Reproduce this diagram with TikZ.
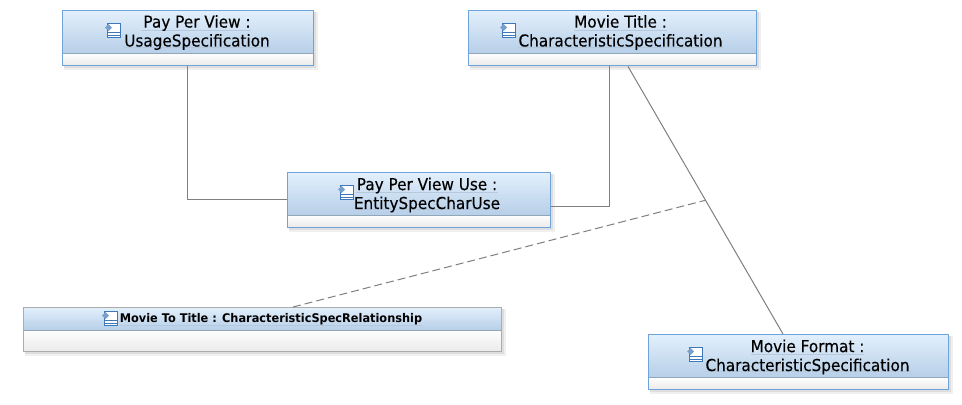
\documentclass[tikz,border=0pt]{standalone}
\usepackage{fontspec}
\setmainfont{DejaVu Sans}
\newfontfamily\labelfont[FakeStretch=0.93,FakeBold=0.25]{DejaVu Sans}
\newfontfamily\smallfont[FakeStretch=0.95]{DejaVu Sans}
\usetikzlibrary{calc}
\definecolor{hdrtop}{HTML}{E3F0FC}
\definecolor{hdrbot}{HTML}{B7CFE8}
\definecolor{edgeblue}{HTML}{6FA3DC}
\definecolor{edgegray}{HTML}{ABABAB}
\definecolor{linkgray}{HTML}{808080}
\definecolor{iconblue}{HTML}{3F78B8}
\definecolor{underl}{HTML}{B4C8DE}
\tikzset{
  x=0.75pt,y=-0.75pt,
  umlbox/.style={draw=edgeblue,line width=1.1pt,inner sep=0pt,rectangle},
  graybox/.style={umlbox,draw=edgegray},
  boxlabel/.style={align=center,font=\labelfont\fontsize{12.3}{14.2}\selectfont,text=black,inner sep=0pt},
  smalllabel/.style={font=\smallfont\bfseries\fontsize{8.95}{11}\selectfont,text=black,inner sep=0pt},
  link/.style={draw=linkgray,line width=0.75pt},
  dashlink/.style={link,dash pattern=on 6pt off 3pt},
  underlineline/.style={draw=underl,line width=0.6pt},
}
% #1 name, #2 x1, #3 y1, #4 x2, #5 y2, #6 divider y, #7 style
\newcommand{\umlframe}[7]{%
  \fill[black!6] (#2+2,#3+2) rectangle (#4+5,#5+5);
  \fill[black!13] (#2+2,#3+2) rectangle (#4+3,#5+3);
  \shade[top color=hdrtop,bottom color=hdrbot] (#2,#3) rectangle (#4,#6);
  \shade[top color=white,bottom color=black!8] (#2,#6) rectangle (#4,#5);
  \draw[draw=hdrbot!80!black,line width=0.75pt] (#2,#6+0.5) -- (#4,#6+0.5);
  \node[#7,anchor=north west,minimum width=#4*0.75pt-#2*0.75pt,minimum height=#5*0.75pt-#3*0.75pt] (#1) at (#2,#3) {};
}
\newcommand{\umlicon}[2]{%
  \begin{scope}[shift={(#1,#2)}]
    \draw[iconblue,fill=white,line width=0.7pt] (2,0) rectangle (15,14.5);
    \draw[iconblue,line width=0.7pt] (2,9) -- (15,9) (2,12) -- (15,12);
    \fill[iconblue!70] (0,4.5) -- (3.5,1) -- (7,4.5) -- (3.5,8) -- cycle;
  \end{scope}%
}
\begin{document}
\begin{tikzpicture}
\useasboundingbox (0,0) rectangle (962,404);
\fill[white] (0,0) rectangle (962,404);

\umlframe{ppv}{62}{10}{313}{65}{53}{umlbox}
\umlframe{title}{468}{10}{756}{65}{53}{umlbox}
\umlframe{use}{287}{172}{550}{227}{215}{umlbox}
\umlframe{rel}{23}{307}{501}{351}{330}{graybox}
\umlframe{format}{648}{334}{948}{389}{377}{umlbox}

\umlicon{105}{23}
\umlicon{500}{23}
\umlicon{338}{185}
\umlicon{102}{311}
\umlicon{687}{347}

\draw[underlineline] (141,30.5) -- (251,30.5) (124,47.5) -- (270,47.5);
\draw[underlineline] (574,30.5) -- (667,30.5) (518,47.5) -- (723,47.5);
\draw[underlineline] (356,192.5) -- (498,192.5) (356,209.5) -- (498,209.5);
\draw[underlineline] (120,325.5) -- (422,325.5);
\draw[underlineline] (751,354.5) -- (864,354.5) (705,371.5) -- (911,371.5);

\node[boxlabel] (ppvtext) at (197,32.5) {Pay Per View :\\UsageSpecification};
\node[boxlabel] (titletext) at (620.5,32.5) {Movie Title :\\CharacteristicSpecification};
\node[boxlabel] (usetext) at (427,195) {Pay Per View Use :\\EntitySpecCharUse};
\node[smalllabel] (reltext) at (271,319.5) {Movie To Title : CharacteristicSpecRelationship};
\node[boxlabel] (formattext) at (807.5,357) {Movie Format :\\CharacteristicSpecification};

\coordinate (ppvout) at ($(ppv.south west)+(125,0)$);
\coordinate (usein) at ($(use.north west)+(0,27)$);
\coordinate (useout) at ($(use.north east)+(0,34)$);
\coordinate (titleout) at ($(title.south west)+(141,0)$);
\coordinate (titlediag) at ($(title.south west)+(160,0)$);
\coordinate (formatin) at ($(format.north west)+(135,0)$);
\coordinate (relout) at ($(rel.north west)+(270,0)$);
\coordinate (midlink) at ($(titlediag)!0.5!(formatin)$);

\draw[link] (ppvout) |- (usein);
\draw[link] (titleout) |- (useout);
\draw[link] (titlediag) -- (formatin);
\draw[dashlink] (relout) -- (midlink);
\end{tikzpicture}
\end{document}
